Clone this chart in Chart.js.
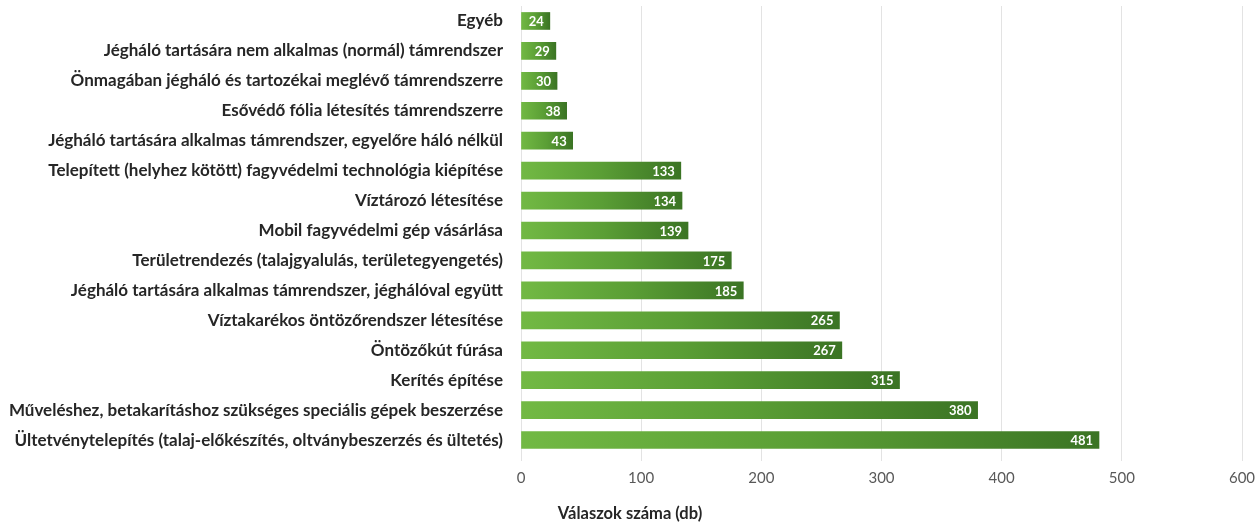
<!DOCTYPE html>
<html>
<head>
<meta charset="utf-8">
<script src="https://cdn.jsdelivr.net/npm/chart.js@4"></script>
<style>
  html, body { margin: 0; padding: 0; background: #fff; }
  #wrap { width: 1258px; height: 523px; }
</style>
</head>
<body>
<div id="wrap"><canvas id="main-chart" width="1258" height="523"></canvas></div>
<script>
const categories = [
  "Egyéb",
  "Jégháló tartására nem alkalmas (normál) támrendszer",
  "Önmagában jégháló és tartozékai meglévő támrendszerre",
  "Esővédő fólia létesítés támrendszerre",
  "Jégháló tartására alkalmas támrendszer, egyelőre háló nélkül",
  "Telepített (helyhez kötött) fagyvédelmi technológia kiépítése",
  "Víztározó létesítése",
  "Mobil fagyvédelmi gép vásárlása",
  "Területrendezés (talajgyalulás, területegyengetés)",
  "Jégháló tartására alkalmas támrendszer, jéghálóval együtt",
  "Víztakarékos öntözőrendszer létesítése",
  "Öntözőkút fúrása",
  "Kerítés építése",
  "Műveléshez, betakarításhoz szükséges speciális gépek beszerzése",
  "Ültetvénytelepítés (talaj-előkészítés, oltványbeszerzés és ültetés)"
];
const answers = [24, 29, 30, 38, 43, 133, 134, 139, 175, 185, 265, 267, 315, 380, 481];
const xTicks = [0, 100, 200, 300, 400, 500, 600];
const axisTitle = "Válaszok száma (db)";

const ctx = document.getElementById("main-chart").getContext("2d");

const valueLabels = {
  id: "valueLabels",
  afterDatasetsDraw(chart) {
    const c = chart.ctx;
    const meta = chart.getDatasetMeta(0);
    c.save();
    c.font = "bold 13px Lato";
    c.fillStyle = "#ffffff";
    c.textAlign = "right";
    c.textBaseline = "middle";
    meta.data.forEach((bar, i) => {
      c.fillText(String(answers[i]), bar.x - 6, bar.y + 1);
    });
    c.restore();
  },
  afterDraw(chart) {
    const c = chart.ctx;
    c.save();
    c.font = "bold 16.5px Lato";
    c.fillStyle = "#262626";
    c.textAlign = "center";
    c.textBaseline = "middle";
    c.fillText(axisTitle, 630, 514);
    c.restore();
  }
};

new Chart(ctx, {
  type: "bar",
  data: {
    labels: categories,
    datasets: [{
      data: answers,
      barThickness: 17,
      backgroundColor: (context) => {
        const chart = context.chart;
        const area = chart.chartArea;
        if (!area || context.parsed === undefined) return "#5a9e35";
        const xs = chart.scales.x;
        const x0 = xs.getPixelForValue(0);
        const x1 = xs.getPixelForValue(context.parsed.x);
        if (x1 - x0 < 1) return "#5a9e35";
        const g = chart.ctx.createLinearGradient(x0, 0, x1, 0);
        g.addColorStop(0, "#72b944");
        g.addColorStop(0.5, "#5a9e35");
        g.addColorStop(1, "#3b7424");
        return g;
      },
      borderWidth: 0
    }]
  },
  options: {
    indexAxis: "y",
    responsive: false,
    animation: false,
    layout: { padding: { top: 6, right: 16, left: 0, bottom: 0 } },
    scales: {
      x: {
        min: 0,
        max: 600,
        afterBuildTicks: (scale) => { scale.ticks = xTicks.map((v) => ({ value: v })); },
        afterFit: (scale) => {
          scale.height = 68;
          scale.paddingLeft = 0;
          scale.paddingRight = 0;
        },
        border: { display: false },
        grid: { color: "#e3e3e3", tickLength: 6, lineWidth: 1 },
        ticks: { color: "#595959", font: { family: "Lato", size: 15 }, padding: 8 }
      },
      y: {
        afterFit: (scale) => {
          scale.width = 521;
          scale.paddingTop = 0;
          scale.paddingBottom = 0;
        },
        border: { display: false },
        grid: { display: false },
        ticks: { color: "#262626", font: { family: "Lato", size: 17, weight: "bold" }, padding: 10, autoSkip: false }
      }
    },
    plugins: {
      legend: { display: false },
      tooltip: { enabled: false }
    }
  },
  plugins: [valueLabels]
});
</script>
</body>
</html>
